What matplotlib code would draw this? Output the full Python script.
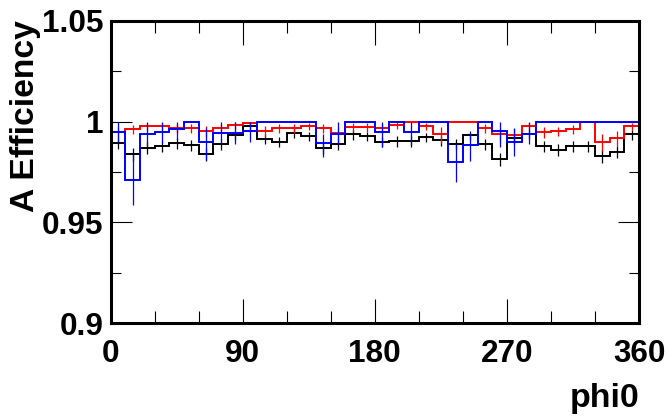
import numpy as np
import matplotlib
matplotlib.use("Agg")
import matplotlib.pyplot as plt
from matplotlib.ticker import MultipleLocator, FuncFormatter

plt.rcParams['font.family'] = ['Liberation Sans', 'DejaVu Sans']
plt.rcParams['font.weight'] = 'bold'

# bin edges in phi0 (degrees)
phi_edges = np.arange(0, 361, 10)

black_eff = [0.9895, 0.9840, 0.9870, 0.9877, 0.9894, 0.9884, 0.9840, 0.9890, 0.9935, 0.9980,
             0.9915, 0.9900, 0.9941, 0.9927, 0.9869, 0.9890, 0.9936, 0.9928, 0.9900, 0.9903,
             0.9903, 0.9925, 0.9907, 0.9890, 0.9932, 0.9890, 0.9816, 0.9918, 0.9940, 0.9879,
             0.9860, 0.9877, 0.9877, 0.9828, 0.9850, 0.9936]
black_lo = [0.0030, 0.0035, 0.0030, 0.0030, 0.0028, 0.0030, 0.0035, 0.0030, 0.0025, 0.0015,
            0.0028, 0.0028, 0.0025, 0.0025, 0.0030, 0.0030, 0.0025, 0.0025, 0.0028, 0.0028,
            0.0028, 0.0025, 0.0028, 0.0030, 0.0025, 0.0030, 0.0035, 0.0027, 0.0025, 0.0030,
            0.0030, 0.0030, 0.0030, 0.0035, 0.0033, 0.0025]
black_hi = [0.0025, 0.0030, 0.0028, 0.0028, 0.0025, 0.0025, 0.0030, 0.0025, 0.0020, 0.0010,
            0.0022, 0.0024, 0.0020, 0.0020, 0.0028, 0.0025, 0.0020, 0.0020, 0.0024, 0.0024,
            0.0024, 0.0020, 0.0024, 0.0025, 0.0020, 0.0025, 0.0030, 0.0022, 0.0020, 0.0027,
            0.0028, 0.0027, 0.0027, 0.0030, 0.0030, 0.0020]

red_eff = [0.9948, 0.9965, 0.9980, 0.9978, 0.9968, 0.9968, 0.9953, 0.9970, 0.9984, 0.9995,
           0.9951, 0.9970, 0.9970, 0.9980, 0.9968, 0.9943, 0.9973, 0.9973, 0.9970, 0.9984,
           1.0000, 0.9980, 0.9936, 1.0000, 1.0000, 0.9970, 0.9940, 0.9935, 0.9980, 0.9948,
           0.9953, 0.9965, 1.0000, 0.9900, 0.9918, 0.9978]
red_lo = [0.0030, 0.0025, 0.0020, 0.0020, 0.0025, 0.0025, 0.0030, 0.0025, 0.0020, 0.0010,
          0.0030, 0.0025, 0.0025, 0.0020, 0.0025, 0.0030, 0.0025, 0.0025, 0.0025, 0.0020,
          0.0000, 0.0020, 0.0040, 0.0000, 0.0000, 0.0025, 0.0035, 0.0035, 0.0020, 0.0030,
          0.0025, 0.0025, 0.0000, 0.0045, 0.0037, 0.0020]
red_hi = [0.0025, 0.0020, 0.0015, 0.0015, 0.0020, 0.0020, 0.0025, 0.0020, 0.0012, 0.0005,
          0.0025, 0.0020, 0.0020, 0.0015, 0.0020, 0.0025, 0.0020, 0.0020, 0.0020, 0.0012,
          0.0000, 0.0015, 0.0035, 0.0000, 0.0000, 0.0020, 0.0030, 0.0030, 0.0015, 0.0025,
          0.0022, 0.0020, 0.0000, 0.0040, 0.0035, 0.0015]

blue_eff = [0.9948, 0.9709, 0.9938, 0.9948, 0.9961, 1.0000, 0.9900, 0.9945, 0.9943, 0.9951,
            1.0000, 1.0000, 1.0000, 1.0000, 0.9895, 0.9940, 1.0000, 1.0000, 0.9948, 1.0000,
            0.9948, 1.0000, 1.0000, 0.9800, 0.9882, 1.0000, 0.9953, 0.9899, 0.9940, 1.0000,
            1.0000, 1.0000, 1.0000, 1.0000, 1.0000, 1.0000]
blue_lo = [0.0050, 0.0125, 0.0060, 0.0055, 0.0050, 0.0000, 0.0090, 0.0055, 0.0055, 0.0050,
           0.0000, 0.0000, 0.0000, 0.0000, 0.0070, 0.0050, 0.0000, 0.0000, 0.0075, 0.0000,
           0.0066, 0.0000, 0.0000, 0.0100, 0.0080, 0.0000, 0.0080, 0.0070, 0.0053, 0.0000,
           0.0000, 0.0000, 0.0000, 0.0000, 0.0000, 0.0000]
blue_hi = [0.0050, 0.0132, 0.0060, 0.0050, 0.0039, 0.0000, 0.0070, 0.0055, 0.0057, 0.0049,
           0.0000, 0.0000, 0.0000, 0.0000, 0.0045, 0.0060, 0.0000, 0.0000, 0.0050, 0.0000,
           0.0050, 0.0000, 0.0000, 0.0090, 0.0060, 0.0000, 0.0045, 0.0070, 0.0058, 0.0000,
           0.0000, 0.0000, 0.0000, 0.0000, 0.0000, 0.0000]

x_ticks = [0, 90, 180, 270, 360]
y_ticks = [0.9, 0.95, 1.0, 1.05]

fig = plt.figure(figsize=(6.69, 4.18), dpi=100)
ax = fig.add_axes([0.1652, 0.2266, 0.7900, 0.7239])

centers = 0.5 * (phi_edges[:-1] + phi_edges[1:])
series = [(black_eff, black_lo, black_hi, '#000000'),
          (red_eff, red_lo, red_hi, '#ff0000'),
          (blue_eff, blue_lo, blue_hi, '#0000ff')]
for z, (eff, lo, hi, col) in enumerate(series):
    ax.stairs(eff, phi_edges, baseline=0, color=col, lw=1.4, zorder=2 + z * 0.1)
    ax.errorbar(centers, eff, yerr=[lo, hi], fmt='none', ecolor=col,
                elinewidth=0.9, capsize=0, zorder=2 + z * 0.1)

ax.set_xlim(0, 360)
ax.set_ylim(0.9, 1.05)
ax.set_xticks(x_ticks)
ax.set_yticks(y_ticks)
ax.xaxis.set_minor_locator(MultipleLocator(30))
ax.yaxis.set_minor_locator(MultipleLocator(0.025))
ax.yaxis.set_major_formatter(FuncFormatter(lambda v, p: '%g' % round(v, 3)))
ax.xaxis.set_major_formatter(FuncFormatter(lambda v, p: '%g' % v))

ax.tick_params(axis='x', which='major', direction='in', top=True, length=17, width=0.8,
               labelsize=22.7, pad=11)
ax.tick_params(axis='x', which='minor', direction='in', top=True, length=8.5, width=0.8)
ax.tick_params(axis='y', which='major', direction='in', right=True, length=15, width=0.8,
               labelsize=22.7, pad=5)
ax.tick_params(axis='y', which='minor', direction='in', right=True, length=7.5, width=0.8)
for lab in ax.get_xticklabels() + ax.get_yticklabels():
    lab.set_fontweight('bold')

for s in ax.spines.values():
    s.set_linewidth(2.2)

fig.text(640 / 669, 1 - 407 / 418, 'phi0', ha='right', va='baseline',
         fontsize=24.5, fontweight='bold')
fig.text(10 / 669, 1 - 20 / 418, 'A Efficiency', rotation=90, ha='left', va='top',
         fontsize=24.2, fontweight='bold')

fig.savefig('out.png', dpi=100)
